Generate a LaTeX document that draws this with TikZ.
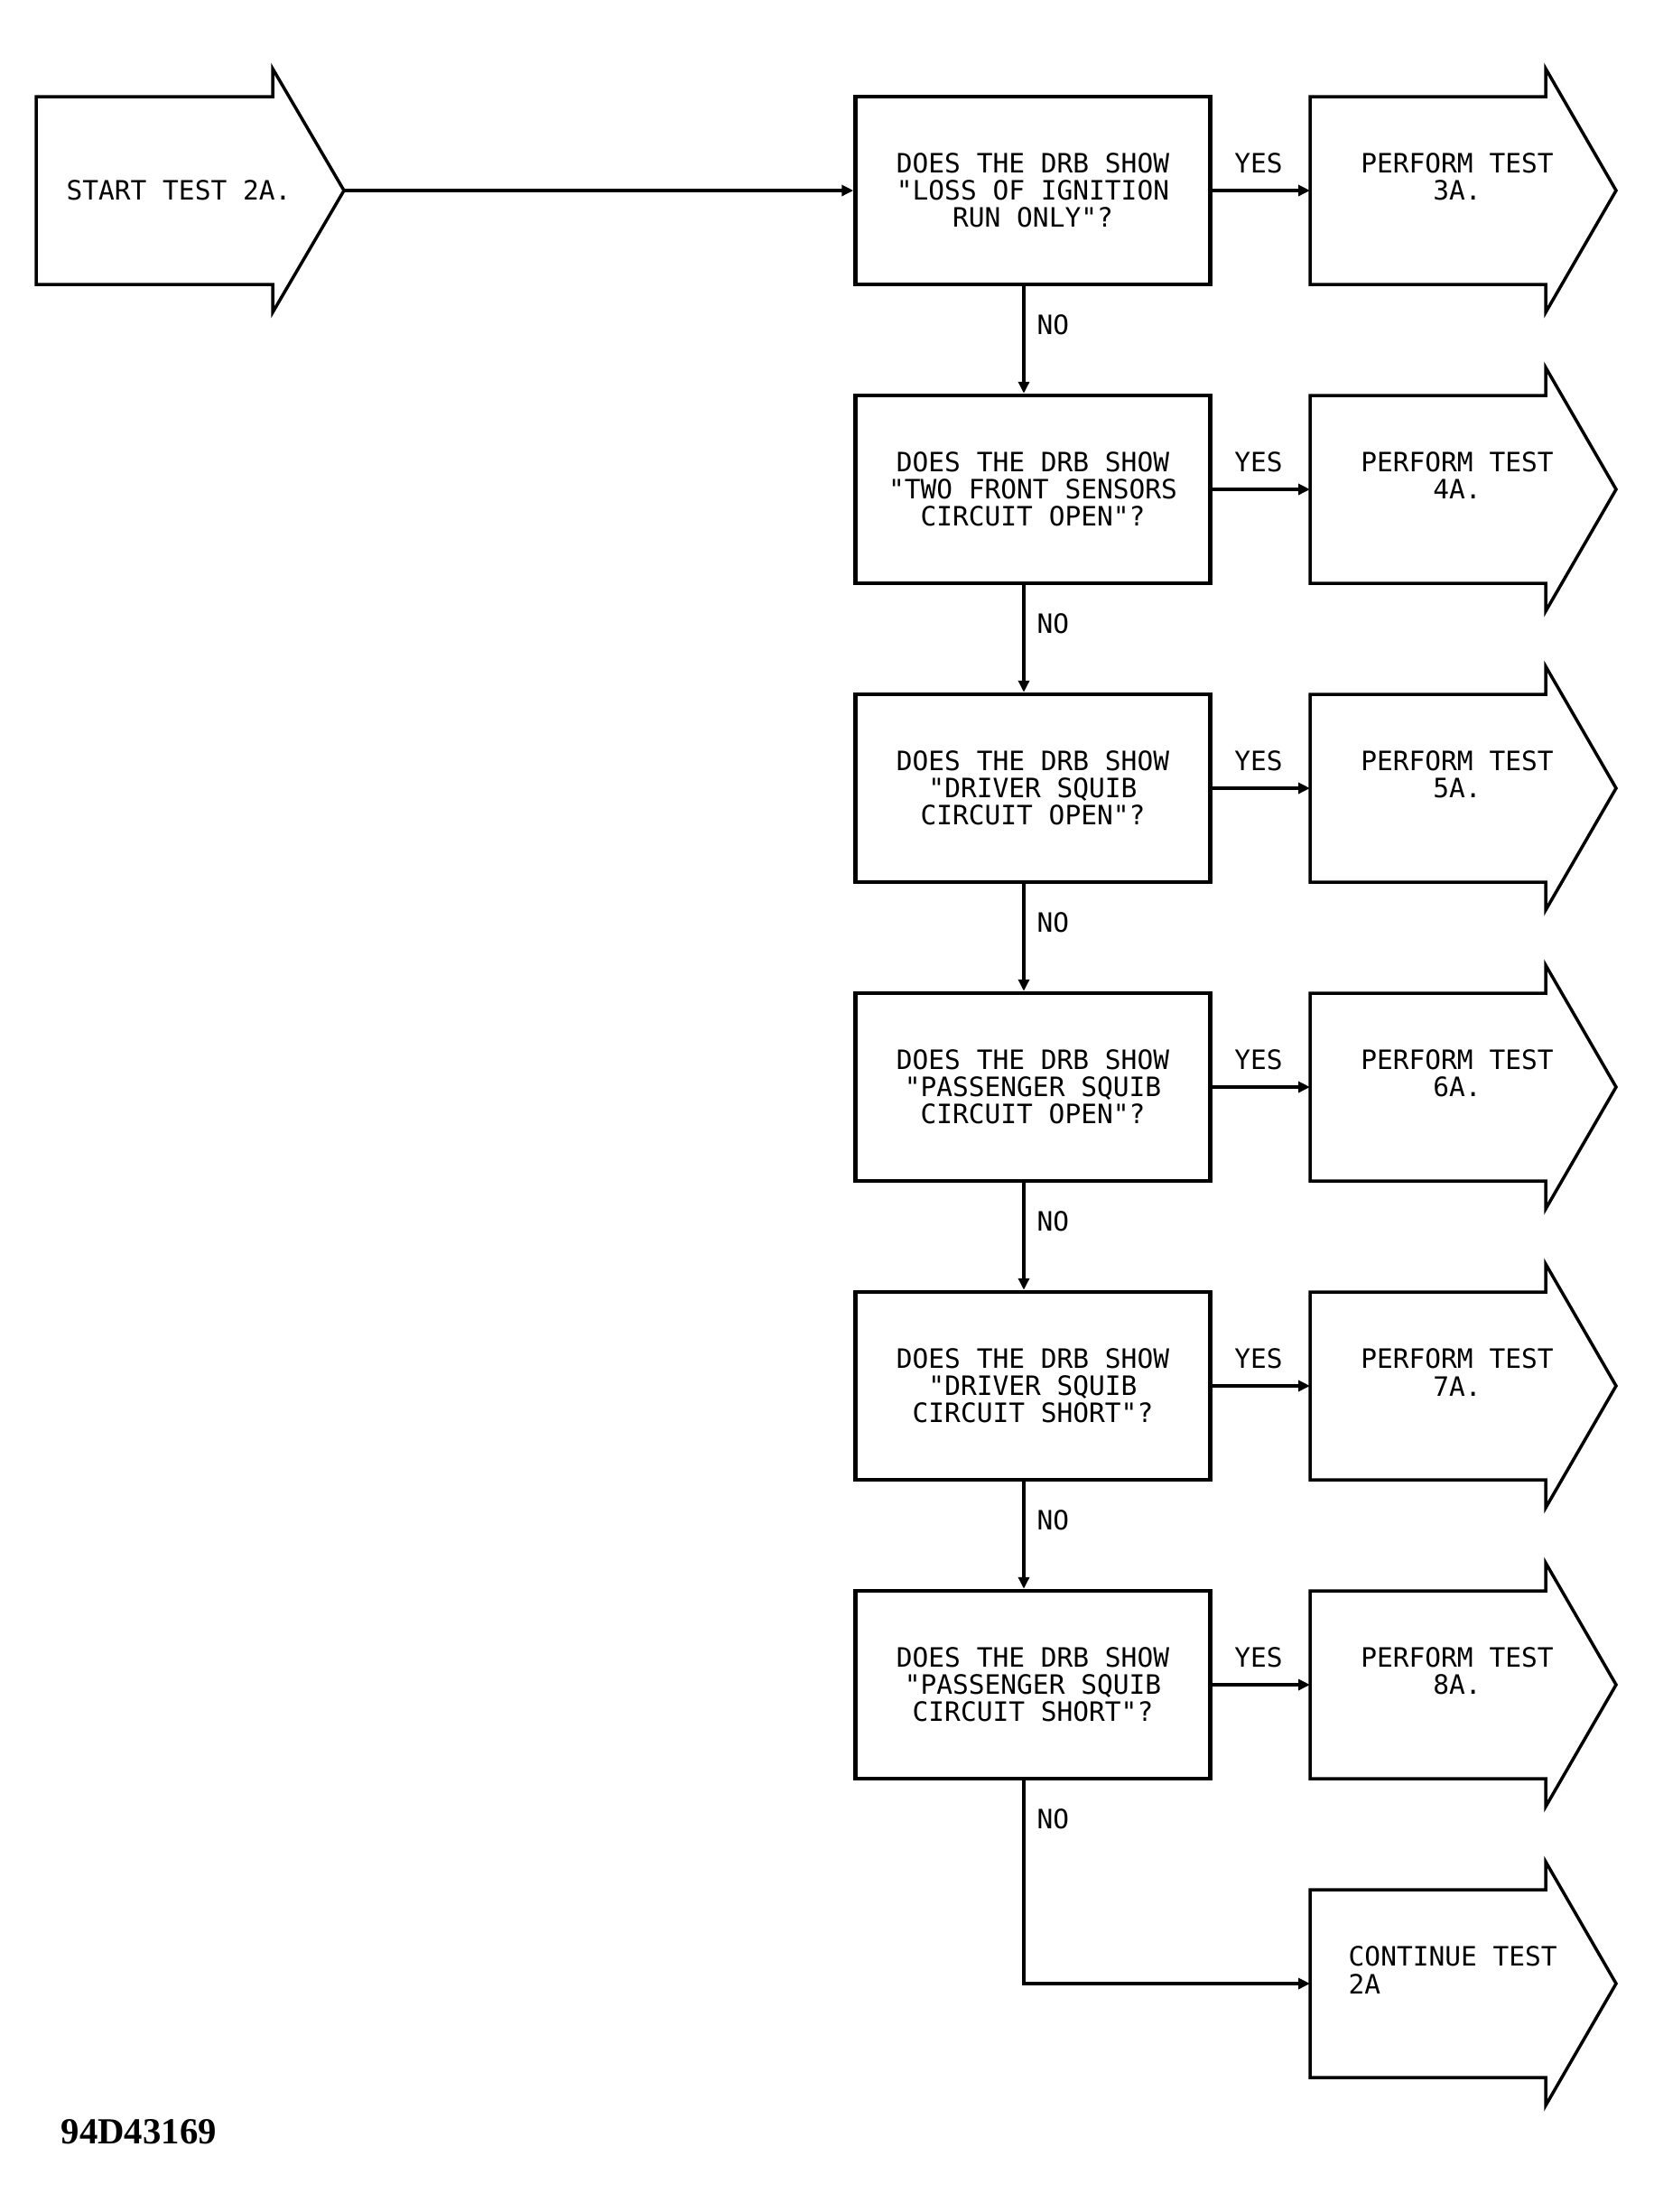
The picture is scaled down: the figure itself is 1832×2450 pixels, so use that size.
\documentclass[tikz,border=0pt]{standalone}
\usepackage{fontspec}
\newfontfamily\drbfont{DejaVu Sans Mono}
\newfontfamily\figfont{Liberation Serif}
\usetikzlibrary{arrows.meta, positioning}

\tikzset{
  qbox/.style={draw, line width=0.45mm, minimum width=39.3mm, minimum height=20.8mm,
    inner sep=0pt, align=center, font=\drbfont\fontsize{8.4}{8.55}\selectfont},
  lbl/.style={inner sep=0pt, font=\drbfont\fontsize{8.4}{8.55}\selectfont},
  outline/.style={line width=0.35mm, line join=miter},
  conn/.style={line width=0.35mm, -{Triangle[length=1.3mm,width=1.2mm]}}
}

\begin{document}
\begin{tikzpicture}[x=0.1mm, y=-0.1mm]

% Page
\fill[white] (0,0) rectangle (1832,2450);

% Start arrow
\draw[outline] (40,107) -- (302,107) -- (302,76) -- (381,211) -- (302,346) -- (302,315) -- (40,315) -- cycle;
\node[lbl] (start) at (198,211) {START TEST 2A.};
\coordinate (starttip) at (381,211);

% Question boxes
\node[qbox] (q1) at (1144,211) {DOES THE DRB SHOW\\"LOSS OF IGNITION\\RUN ONLY"?};
\node[qbox] (q2) at (1144,542) {DOES THE DRB SHOW\\"TWO FRONT SENSORS\\CIRCUIT OPEN"?};
\node[qbox] (q3) at (1144,873) {DOES THE DRB SHOW\\"DRIVER SQUIB\\CIRCUIT OPEN"?};
\node[qbox] (q4) at (1144,1204) {DOES THE DRB SHOW\\"PASSENGER SQUIB\\CIRCUIT OPEN"?};
\node[qbox] (q5) at (1144,1535) {DOES THE DRB SHOW\\"DRIVER SQUIB\\CIRCUIT SHORT"?};
\node[qbox] (q6) at (1144,1866) {DOES THE DRB SHOW\\"PASSENGER SQUIB\\CIRCUIT SHORT"?};

% Result arrows
\draw[outline] (1451,107) -- (1712,107) -- (1712,76) -- (1790,211) -- (1712,346) -- (1712,315) -- (1451,315) -- cycle;
\node[lbl, align=center] (p1) at (1614,196) {PERFORM TEST\\3A.};
\coordinate (p1in) at (1451,211);

\draw[outline] (1451,438) -- (1712,438) -- (1712,407) -- (1790,542) -- (1712,677) -- (1712,646) -- (1451,646) -- cycle;
\node[lbl, align=center] (p2) at (1614,527) {PERFORM TEST\\4A.};
\coordinate (p2in) at (1451,542);

\draw[outline] (1451,769) -- (1712,769) -- (1712,738) -- (1790,873) -- (1712,1008) -- (1712,977) -- (1451,977) -- cycle;
\node[lbl, align=center] (p3) at (1614,858) {PERFORM TEST\\5A.};
\coordinate (p3in) at (1451,873);

\draw[outline] (1451,1100) -- (1712,1100) -- (1712,1069) -- (1790,1204) -- (1712,1339) -- (1712,1308) -- (1451,1308) -- cycle;
\node[lbl, align=center] (p4) at (1614,1189) {PERFORM TEST\\6A.};
\coordinate (p4in) at (1451,1204);

\draw[outline] (1451,1431) -- (1712,1431) -- (1712,1400) -- (1790,1535) -- (1712,1670) -- (1712,1639) -- (1451,1639) -- cycle;
\node[lbl, align=center] (p5) at (1614,1520) {PERFORM TEST\\7A.};
\coordinate (p5in) at (1451,1535);

\draw[outline] (1451,1762) -- (1712,1762) -- (1712,1731) -- (1790,1866) -- (1712,2001) -- (1712,1970) -- (1451,1970) -- cycle;
\node[lbl, align=center] (p6) at (1614,1851) {PERFORM TEST\\8A.};
\coordinate (p6in) at (1451,1866);

\draw[outline] (1451,2093) -- (1712,2093) -- (1712,2062) -- (1790,2197) -- (1712,2332) -- (1712,2301) -- (1451,2301) -- cycle;
\node[lbl, align=left, anchor=west] (c7) at (1493,2182) {CONTINUE TEST\\2A};
\coordinate (c7in) at (1451,2197);

% Connectors
\draw[conn] (starttip) -- (q1.west);

\draw[conn] (q1.east) -- (p1in);
\node[lbl] (yes1) at (1394,181) {YES};
\draw[conn] (q2.east) -- (p2in);
\node[lbl] (yes2) at (1394,512) {YES};
\draw[conn] (q3.east) -- (p3in);
\node[lbl] (yes3) at (1394,843) {YES};
\draw[conn] (q4.east) -- (p4in);
\node[lbl] (yes4) at (1394,1174) {YES};
\draw[conn] (q5.east) -- (p5in);
\node[lbl] (yes5) at (1394,1505) {YES};
\draw[conn] (q6.east) -- (p6in);
\node[lbl] (yes6) at (1394,1836) {YES};

\draw[conn] ([xshift=-1mm]q1.south) -- ([xshift=-1mm]q2.north);
\node[lbl, anchor=west] (no1) at (1148,360) {NO};
\draw[conn] ([xshift=-1mm]q2.south) -- ([xshift=-1mm]q3.north);
\node[lbl, anchor=west] (no2) at (1148,691) {NO};
\draw[conn] ([xshift=-1mm]q3.south) -- ([xshift=-1mm]q4.north);
\node[lbl, anchor=west] (no3) at (1148,1022) {NO};
\draw[conn] ([xshift=-1mm]q4.south) -- ([xshift=-1mm]q5.north);
\node[lbl, anchor=west] (no4) at (1148,1353) {NO};
\draw[conn] ([xshift=-1mm]q5.south) -- ([xshift=-1mm]q6.north);
\node[lbl, anchor=west] (no5) at (1148,1684) {NO};
\draw[conn] ([xshift=-1mm]q6.south) |- (c7in);
\node[lbl, anchor=west] (no6) at (1148,2015) {NO};

% Figure number
\node[anchor=base west, inner sep=0pt, font=\figfont\bfseries\fontsize{11.6}{14}\selectfont] (figno) at (67,2374) {94D43169};

\end{tikzpicture}
\end{document}
